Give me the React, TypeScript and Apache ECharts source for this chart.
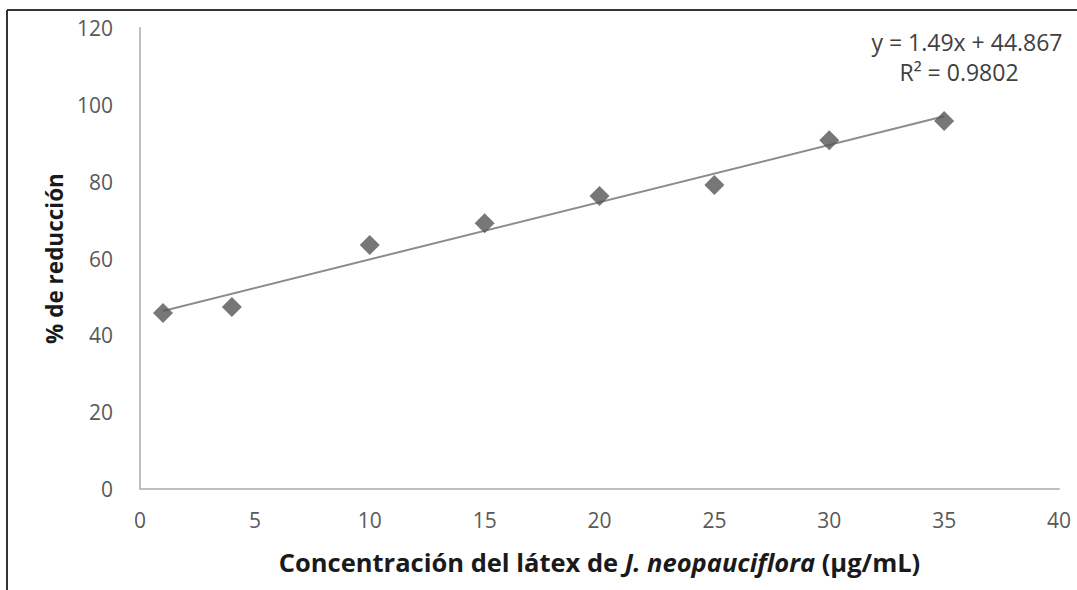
import React, { useEffect, useRef } from "react";
import * as echarts from "echarts";

const concentrations = [1, 4, 10, 15, 20, 25, 30, 35];
const reduction = [45.8, 47.4, 63.5, 69.2, 76.3, 79.1, 90.8, 95.8];
const slope = 1.49;
const intercept = 44.867;
const equationLines = ["y = 1.49x + 44.867", "R² = 0.9802"];
const trendRange = [1, 35];

const FONT = "'Open Sans', sans-serif";

export default function App() {
  const ref = useRef<HTMLDivElement>(null);
  useEffect(() => {
    if (!ref.current) return;
    const chart = echarts.init(ref.current, null, { renderer: "svg" });
    const pts = concentrations.map((c, i) => [c, reduction[i]]);
    const trend = trendRange.map((x) => [x, slope * x + intercept]);
    chart.setOption({
      animation: false,
      backgroundColor: "#ffffff",
      textStyle: { fontFamily: FONT },
      grid: { left: 140, right: 18, top: 28, bottom: 101 },
      xAxis: {
        type: "value",
        min: 0,
        max: 40,
        interval: 5,
        axisLine: { show: true, lineStyle: { color: "#bfbfbf", width: 2 } },
        axisTick: { show: false },
        splitLine: { show: false },
        axisLabel: { color: "#595959", fontSize: 21, margin: 20, fontFamily: FONT },
        name: "{b|Concentración del látex de }{bi|J. neopauciflora}{b| (µg/mL)}",
        nameLocation: "middle",
        nameGap: 60,
        nameTextStyle: {
          rich: {
            b: { fontSize: 25.5, fontWeight: "bold", color: "#1a1a1a", fontFamily: FONT },
            bi: { fontSize: 25.5, fontWeight: "bold", fontStyle: "italic", color: "#1a1a1a", fontFamily: FONT },
          },
        },
      },
      yAxis: {
        type: "value",
        min: 0,
        max: 120,
        interval: 20,
        axisLine: { show: true, lineStyle: { color: "#bfbfbf", width: 2 } },
        axisTick: { show: false },
        splitLine: { show: false },
        axisLabel: { color: "#595959", fontSize: 21, margin: 27, fontFamily: FONT },
        name: "% de reducción",
        nameLocation: "middle",
        nameGap: 60,
        nameTextStyle: { fontSize: 22.5, fontWeight: "bold", color: "#1a1a1a", fontFamily: FONT },
      },
      series: [
        {
          type: "line",
          data: trend,
          symbol: "none",
          lineStyle: { color: "#8c8c8c", width: 2 },
          z: 1,
        },
        {
          type: "scatter",
          data: pts,
          symbol: "diamond",
          symbolSize: 20,
          itemStyle: { color: "#555555" },
          z: 2,
        },
      ],
      graphic: [
        {
          type: "line",
          shape: { x1: 7, y1: 10, x2: 1077, y2: 10 },
          style: { stroke: "#333333", lineWidth: 2 },
        },
        {
          type: "line",
          shape: { x1: 7, y1: 10, x2: 7, y2: 590 },
          style: { stroke: "#333333", lineWidth: 2 },
        },
        {
          type: "text",
          x: 967,
          y: 42,
          style: {
            text: equationLines[0],
            fontSize: 23,
            fill: "#404040",
            fontFamily: FONT,
            align: "center",
            verticalAlign: "middle",
          },
        },
        {
          type: "text",
          x: 959,
          y: 72,
          style: {
            text: equationLines[1],
            fontSize: 23,
            fill: "#404040",
            fontFamily: FONT,
            align: "center",
            verticalAlign: "middle",
          },
        },
      ],
    });
    return () => chart.dispose();
  }, []);
  return <div ref={ref} style={{ width: 1077, height: 590, position: "absolute", left: 0, top: 0 }} />;
}
